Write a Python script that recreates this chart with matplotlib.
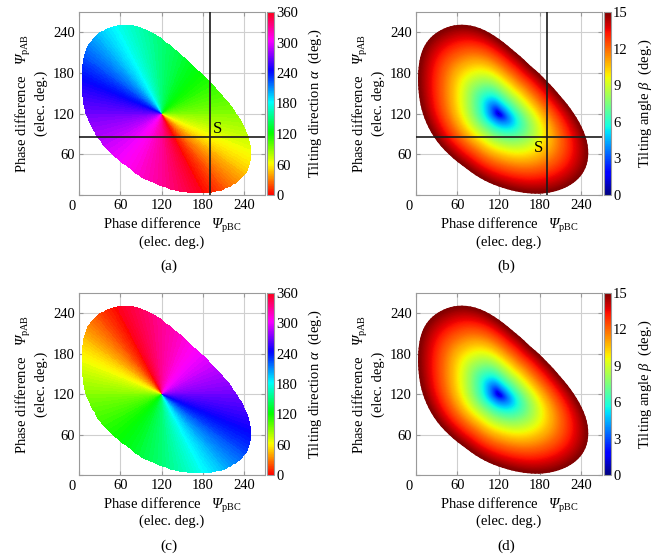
import numpy as np
import matplotlib
matplotlib.use('Agg')
import matplotlib.pyplot as plt
from matplotlib.cm import ScalarMappable
from matplotlib.colors import Normalize

# 轴刻度 / 色条刻度
axis_ticks = [0, 60, 120, 180, 240]
alpha_ticks = [0, 60, 120, 180, 240, 300, 360]
beta_ticks = [0, 3, 6, 9, 12, 15]

# beta = 15 deg 的边界
bnd_x = [57.6, 28.5, 14.0, 6.8, 4.4, 5.3, 9.2, 16.4, 28.5, 47.9, 72.0, 96.0, 125.0, 154.0,
         178.5, 207.5, 231.7, 246.0, 250.0, 248.6, 241.4, 227.0, 207.6, 188.0, 164.0,
         139.8, 115.6, 91.4, 72.0]
bnd_y = [251.5, 239.0, 224.6, 204.6, 180.0, 150.0, 125.7, 106.0, 83.8, 61.6, 42.0, 24.7,
         12.3, 4.9, 2.5, 7.4, 19.7, 37.0, 56.7, 76.4, 96.0, 120.8, 145.5, 167.7, 190.0,
         212.0, 231.8, 246.5, 250.7]

center = (120.0, 120.0)     # beta = 0 点
beta_max = 15.0
beta_exp = 0.62             # beta ~ r^0.62
alpha_offset = {'a': 150.0, 'c': -30.0}   # 两种相序
S_point = (190.0, 85.0)

plt.rcParams['font.family'] = ['Liberation Serif', 'DejaVu Serif']
plt.rcParams['mathtext.fontset'] = 'custom'
plt.rcParams['mathtext.rm'] = 'Liberation Serif'
plt.rcParams['mathtext.it'] = 'Liberation Serif:italic'
plt.rcParams['mathtext.cal'] = 'Liberation Serif:italic'
plt.rcParams['font.size'] = 10.5

W, H = 666, 560
fig = plt.figure(figsize=(W / 100, H / 100), dpi=100)


def box(l, t, r, b):
    return [l / W, 1 - b / H, (r - l) / W, (b - t) / H]


# 边界半径 R(phi): 周期插值 + 平滑
bx = np.array(bnd_x) - center[0]
by = np.array(bnd_y) - center[1]
phi_b = np.arctan2(by, bx)
r_b = np.hypot(bx, by)
order = np.argsort(phi_b)
phi_b, r_b = phi_b[order], r_b[order]

phi_f = np.linspace(-np.pi, np.pi, 720, endpoint=False)
r_f = np.interp(phi_f, phi_b, r_b, period=2 * np.pi)
k = np.arange(-30, 31)
kern = np.exp(-0.5 * (k / 10.0) ** 2)
kern /= kern.sum()
r_s = np.convolve(np.concatenate([r_f[-30:], r_f, r_f[:30]]), kern, mode='valid')


def radius(phi):
    return np.interp(phi, phi_f, r_s, period=2 * np.pi)


def mesh(off, n_a=120, n_b=90):
    a = np.linspace(0, 360, n_a + 1)
    b = np.linspace(0, beta_max, n_b)
    A, B = np.meshgrid(a, b)
    # alpha -> 图上方向 (三相线性关系)
    t = np.radians(A + off)
    p = np.sqrt(3) * np.cos(t)
    q = -np.sin(t)
    phi = np.arctan2((q + p), (q - p))
    rho = (B / beta_max) ** (1.0 / beta_exp)
    R = radius(phi)
    x = center[0] + rho * R * np.cos(phi)
    y = center[1] + rho * R * np.sin(phi)
    return a, b, x, y


def style_axes(ax):
    ax.set_xlim(0, 270)
    ax.set_ylim(0, 270)
    ax.set_xticks(axis_ticks)
    ax.set_yticks(axis_ticks)
    ax.set_xticklabels([''] + [str(v) for v in axis_ticks[1:]])
    ax.set_yticklabels([''] + [str(v) for v in axis_ticks[1:]])
    ax.text(-0.035, -0.025, '0', transform=ax.transAxes, ha='center', va='top', fontsize=10.5)
    ax.grid(True, color='#cfcfcf', lw=0.8)
    ax.set_axisbelow(True)
    ax.tick_params(direction='in', length=3, color='#999999', pad=3,
                   top=True, right=True, labelsize=10.5)
    for sp in ax.spines.values():
        sp.set_color('#9a9a9a')
        sp.set_linewidth(0.8)
    ax.set_xlabel('Phase difference   $\\mathcal{\\Psi}_{\\mathrm{pBC}}$\n(elec. deg.)', linespacing=1.0)
    ax.set_ylabel('Phase difference   $\\mathcal{\\Psi}_{\\mathrm{pAB}}$\n(elec. deg.)', linespacing=1.15)
    ax.xaxis.set_label_coords(0.5, -0.115)
    ax.yaxis.set_label_coords(-0.165, 0.5)


def add_cbar(cax, cmap, vmax, ticks, label):
    sm = ScalarMappable(norm=Normalize(0, vmax), cmap=cmap)
    cb = fig.colorbar(sm, cax=cax)
    cb.set_ticks(ticks)
    cb.ax.tick_params(length=0, pad=1.5, labelsize=10.5)
    cb.outline.set_edgecolor('#9a9a9a')
    cb.outline.set_linewidth(0.8)
    cb.set_label(label, labelpad=6)


panels = [
    ('a', 'alpha', (79, 12, 265, 195), (267, 274), True),
    ('b', 'beta', (416, 12, 602, 195), (604, 611), True),
    ('c', 'alpha', (79, 293, 265, 475), (267, 274), False),
    ('d', 'beta', (416, 293, 602, 475), (604, 611), False),
]

for tag, kind, (l, t, r, b), (cl, cr), show_s in panels:
    ax = fig.add_axes(box(l, t, r, b))
    cax = fig.add_axes(box(cl, t, cr, b))
    off = alpha_offset['a'] if tag in ('a', 'b') else alpha_offset['c']
    a, bb, x, y = mesh(off)
    if kind == 'alpha':
        amid = 0.5 * (a[:-1] + a[1:])
        C = np.tile(amid, (len(bb) - 1, 1))
        ax.pcolormesh(x, y, C, cmap='hsv', vmin=0, vmax=360, shading='flat', zorder=2)
        add_cbar(cax, 'hsv', 360, alpha_ticks, 'Tilting direction $\\alpha$  (deg.)')
    else:
        C = np.tile(bb[:, None], (1, len(a)))
        ax.pcolormesh(x, y, C, cmap='jet', vmin=0, vmax=beta_max, shading='gouraud', zorder=2)
        add_cbar(cax, 'jet', beta_max, beta_ticks, 'Tilting angle $\\beta$  (deg.)')
    style_axes(ax)
    if show_s:
        ax.axvline(S_point[0], color='#1a1a1a', lw=1.2, zorder=3)
        ax.axhline(S_point[1], color='#1a1a1a', lw=1.2, zorder=3)
        if tag == 'a':
            ax.text(S_point[0] + 5, S_point[1] + 6, 'S', fontsize=12, zorder=4)
        else:
            ax.text(S_point[0] - 19, S_point[1] - 22, 'S', fontsize=12, zorder=4)
    fig.text(((l + r) / 2 - 3) / W, 1 - (b + 71) / H, '(%s)' % tag, ha='center', va='center', fontsize=11)

fig.savefig('out.png', dpi=100)
